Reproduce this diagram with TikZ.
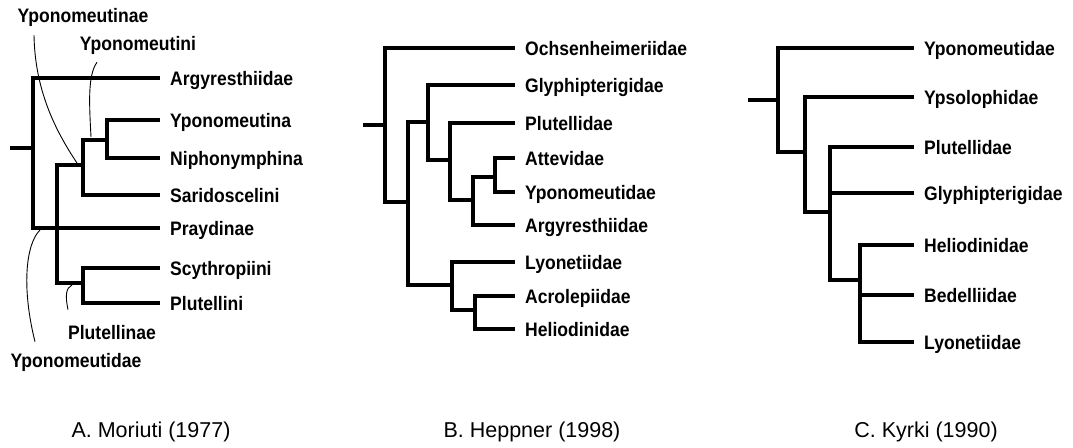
\documentclass[tikz,border=0pt]{standalone}
\usepackage{fontspec}
\setmainfont{Liberation Sans}
\newfontfamily\labfont[FakeStretch=0.9]{Liberation Sans Bold}
\usetikzlibrary{calc}

\begin{document}
\begin{tikzpicture}[x=1pt,y=-1pt,
  branch/.style={line width=4pt},
  pointer/.style={line width=0.9pt},
  labtext/.style={font={\labfont\fontsize{19.5}{21}\selectfont}},
  taxon/.style={labtext, anchor=west, inner xsep=10pt, inner ysep=0pt,
                text height=14pt, text depth=0pt},
  grouplab/.style={labtext, anchor=base, inner sep=0pt},
  caption/.style={anchor=base, inner sep=0pt, font={\fontsize{21.5}{24}\selectfont}}
]
\useasboundingbox (0,0) rectangle (1073,447);

% ---------------- A. Moriuti (1977) ----------------
\coordinate (stubA) at (10,148);
\coordinate (rootA) at (33,148);
\coordinate (nA2) at (57,228);
\coordinate (nA3) at (83,165);
\coordinate (nA4) at (107,140);
\coordinate (nA5) at (83,283);

\node[taxon] (argA) at (160,78)  {Argyresthiidae};
\node[taxon] (ypaA) at (160,120) {Yponomeutina};
\node[taxon] (nipA) at (160,158) {Niphonymphina};
\node[taxon] (sarA) at (160,195) {Saridoscelini};
\node[taxon] (prA)  at (160,228) {Praydinae};
\node[taxon] (scyA) at (160,268) {Scythropiini};
\node[taxon] (pluA) at (160,303) {Plutellini};

\draw[branch] (stubA) -- (rootA);
\draw[branch] (rootA) |- (argA.west);
\draw[branch] (rootA) |- (nA2);
\draw[branch] (nA2) |- (nA3);
\draw[branch] (nA2) |- (prA.west);
\draw[branch] (nA2) |- (nA5);
\draw[branch] (nA3) |- (nA4);
\draw[branch] (nA3) |- (sarA.west);
\draw[branch] (nA4) |- (ypaA.west);
\draw[branch] (nA4) |- (nipA.west);
\draw[branch] (nA5) |- (scyA.west);
\draw[branch] (nA5) |- (pluA.west);

% group names with leader curves
\node[grouplab] (gYinae) at (83,22)  {Yponomeutinae};
\node[grouplab] (gYini)  at (138,50) {Yponomeutini};
\node[grouplab] (gPinae) at (112,339) {Plutellinae};
\node[grouplab] (gYidae) at (76,367) {Yponomeutidae};

\coordinate (hYinae) at (77,163);
\coordinate (hYini)  at (91,137);
\coordinate (hPinae) at (72,285);
\coordinate (hYidae) at (40,230);

\draw[pointer] ($(gYinae.south)+(-49,9)$) .. controls (35,90) and (55,130) .. (hYinae);
\draw[pointer] ($(gYini.south)+(-41,8)$) .. controls (88,75) and (89,100) .. (hYini);
\draw[pointer] ($(gPinae.north)+(-44,-15)$) .. controls (65,295) and (66,288) .. (hPinae);
\draw[pointer] ($(gYidae.north)+(-41,-11)$) .. controls (22,290) and (25,245) .. (hYidae);

\node[caption] (capA) at (151,437) {A. Moriuti (1977)};

% ---------------- B. Heppner (1998) ----------------
\coordinate (stubB) at (363,125);
\coordinate (rootB) at (385,125);
\coordinate (nB2) at (408,202);
\coordinate (nB3) at (428,122);
\coordinate (nB4) at (450,160);
\coordinate (nB5) at (473,200);
\coordinate (nB6) at (495,177);
\coordinate (nB7) at (452,285);
\coordinate (nB8) at (475,310);

\node[taxon] (ochB) at (515,48)  {Ochsenheimeriidae};
\node[taxon] (glyB) at (515,85)  {Glyphipterigidae};
\node[taxon] (pluB) at (515,123) {Plutellidae};
\node[taxon] (attB) at (515,158) {Attevidae};
\node[taxon] (ypoB) at (515,192) {Yponomeutidae};
\node[taxon] (argB) at (515,225) {Argyresthiidae};
\node[taxon] (lyoB) at (515,262) {Lyonetiidae};
\node[taxon] (acrB) at (515,296) {Acrolepiidae};
\node[taxon] (helB) at (515,329) {Heliodinidae};

\draw[branch] (stubB) -- (rootB);
\draw[branch] (rootB) |- (ochB.west);
\draw[branch] (rootB) |- (nB2);
\draw[branch] (nB2) |- (nB3);
\draw[branch] (nB2) |- (nB7);
\draw[branch] (nB3) |- (glyB.west);
\draw[branch] (nB3) |- (nB4);
\draw[branch] (nB4) |- (pluB.west);
\draw[branch] (nB4) |- (nB5);
\draw[branch] (nB5) |- (nB6);
\draw[branch] (nB5) |- (argB.west);
\draw[branch] (nB6) |- (attB.west);
\draw[branch] (nB6) |- (ypoB.west);
\draw[branch] (nB7) |- (lyoB.west);
\draw[branch] (nB7) |- (nB8);
\draw[branch] (nB8) |- (acrB.west);
\draw[branch] (nB8) |- (helB.west);

\node[caption] (capB) at (532,437) {B. Heppner (1998)};

% ---------------- C. Kyrki (1990) ----------------
\coordinate (stubC) at (748,100);
\coordinate (rootC) at (778,100);
\coordinate (nC2) at (805,152);
\coordinate (nC3) at (830,212);
\coordinate (nC4) at (860,280);

\node[taxon] (ypoC) at (914,48)  {Yponomeutidae};
\node[taxon] (ypsC) at (914,97)  {Ypsolophidae};
\node[taxon] (pluC) at (914,147) {Plutellidae};
\node[taxon] (glyC) at (914,193) {Glyphipterigidae};
\node[taxon] (helC) at (914,245) {Heliodinidae};
\node[taxon] (bedC) at (914,295) {Bedelliidae};
\node[taxon] (lyoC) at (914,342) {Lyonetiidae};

\draw[branch] (stubC) -- (rootC);
\draw[branch] (rootC) |- (ypoC.west);
\draw[branch] (rootC) |- (nC2);
\draw[branch] (nC2) |- (ypsC.west);
\draw[branch] (nC2) |- (nC3);
\draw[branch] (nC3) |- (pluC.west);
\draw[branch] (nC3) |- (glyC.west);
\draw[branch] (nC3) |- (nC4);
\draw[branch] (nC4) |- (helC.west);
\draw[branch] (nC4) |- (bedC.west);
\draw[branch] (nC4) |- (lyoC.west);

\node[caption] (capC) at (926,437) {C. Kyrki (1990)};
\end{tikzpicture}
\end{document}
